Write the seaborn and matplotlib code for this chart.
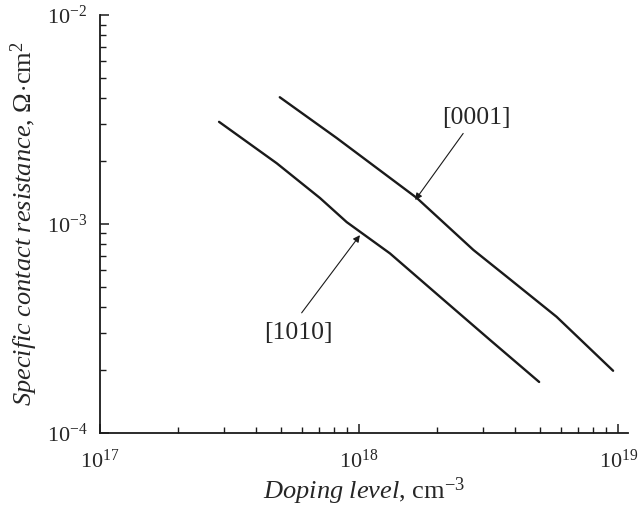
import numpy as np
import pandas as pd
import matplotlib
matplotlib.use("Agg")
import matplotlib.pyplot as plt
import seaborn as sns

# Specific contact resistance vs. doping level for two crystal orientations
dop_1010 = [2.88e17, 4.81e17, 7.06e17, 8.95e17, 1.315e18, 2.05e18, 3.20e18, 4.95e18]
res_1010 = [3.08e-3, 1.95e-3, 1.33e-3, 1.02e-3, 7.22e-4, 4.48e-4, 2.78e-4, 1.75e-4]

dop_0001 = [4.94e17, 8.18e17, 1.67e18, 2.76e18, 3.71e18, 5.78e18, 9.55e18]
res_0001 = [4.04e-3, 2.58e-3, 1.33e-3, 7.50e-4, 5.59e-4, 3.59e-4, 1.98e-4]

labels = ["[1010]", "[0001]"]

df = pd.concat([
    pd.DataFrame({"doping": dop_1010, "rho": res_1010, "orient": labels[0]}),
    pd.DataFrame({"doping": dop_0001, "rho": res_0001, "orient": labels[1]}),
])

sns.set_style("ticks")
plt.rcParams["font.family"] = ["Liberation Serif", "DejaVu Serif"]
plt.rcParams["mathtext.fontset"] = "custom"
plt.rcParams["mathtext.rm"] = "Liberation Serif"
plt.rcParams["mathtext.it"] = "Liberation Serif:italic"
plt.rcParams["mathtext.bf"] = "Liberation Serif:bold"

fig = plt.figure(figsize=(6.44, 5.11), dpi=100)
ax = fig.add_axes([0.1553, 0.1532, 0.9756 - 0.1553, 0.9706 - 0.1532])

for name in labels:
    sub = df[df["orient"] == name]
    sns.lineplot(data=sub, x="doping", y="rho", sort=False, color="#1a1a1a",
                 lw=1.7, ax=ax, legend=False)

ax.set_xscale("log")
ax.set_yscale("log")
ax.set_xlim(1e17, 1.093e19)
ax.set_ylim(1e-4, 1e-2)

sns.despine(ax=ax)
for s in ("left", "bottom"):
    ax.spines[s].set_linewidth(1.3)
    ax.spines[s].set_color("#1a1a1a")

ax.tick_params(which="major", direction="in", length=6.5, width=1.1,
               labelsize=16, color="#1a1a1a")
ax.tick_params(which="minor", direction="in", length=4, width=1.0,
               color="#1a1a1a")
ax.tick_params(axis="x", which="major", pad=12)
ax.tick_params(axis="y", which="major", pad=9)

ax.set_xlabel(r"$\it{Doping\ level}$, cm$^{-3}$", fontsize=19, labelpad=2)
ax.set_ylabel(r"$\it{Specific\ contact\ resistance}$, $\Omega\!\cdot\!$cm$^{2}$",
              fontsize=19, labelpad=5)

arrow = dict(arrowstyle="-|>", lw=0.8, color="#1a1a1a",
             mutation_scale=10, shrinkA=0, shrinkB=0)

ax.text(2.84e18, 3.21e-3, labels[1], fontsize=18.5, ha="center", va="center")
ax.annotate("", xy=(1.645e18, 1.30e-3), xytext=(2.52e18, 2.71e-3),
            arrowprops=arrow)

ax.text(5.82e17, 3.00e-4, labels[0], fontsize=18.5, ha="center", va="center")
ax.annotate("", xy=(1.007e18, 8.83e-4), xytext=(6.0e17, 3.75e-4),
            arrowprops=arrow)

fig.savefig("out.png", dpi=100)
